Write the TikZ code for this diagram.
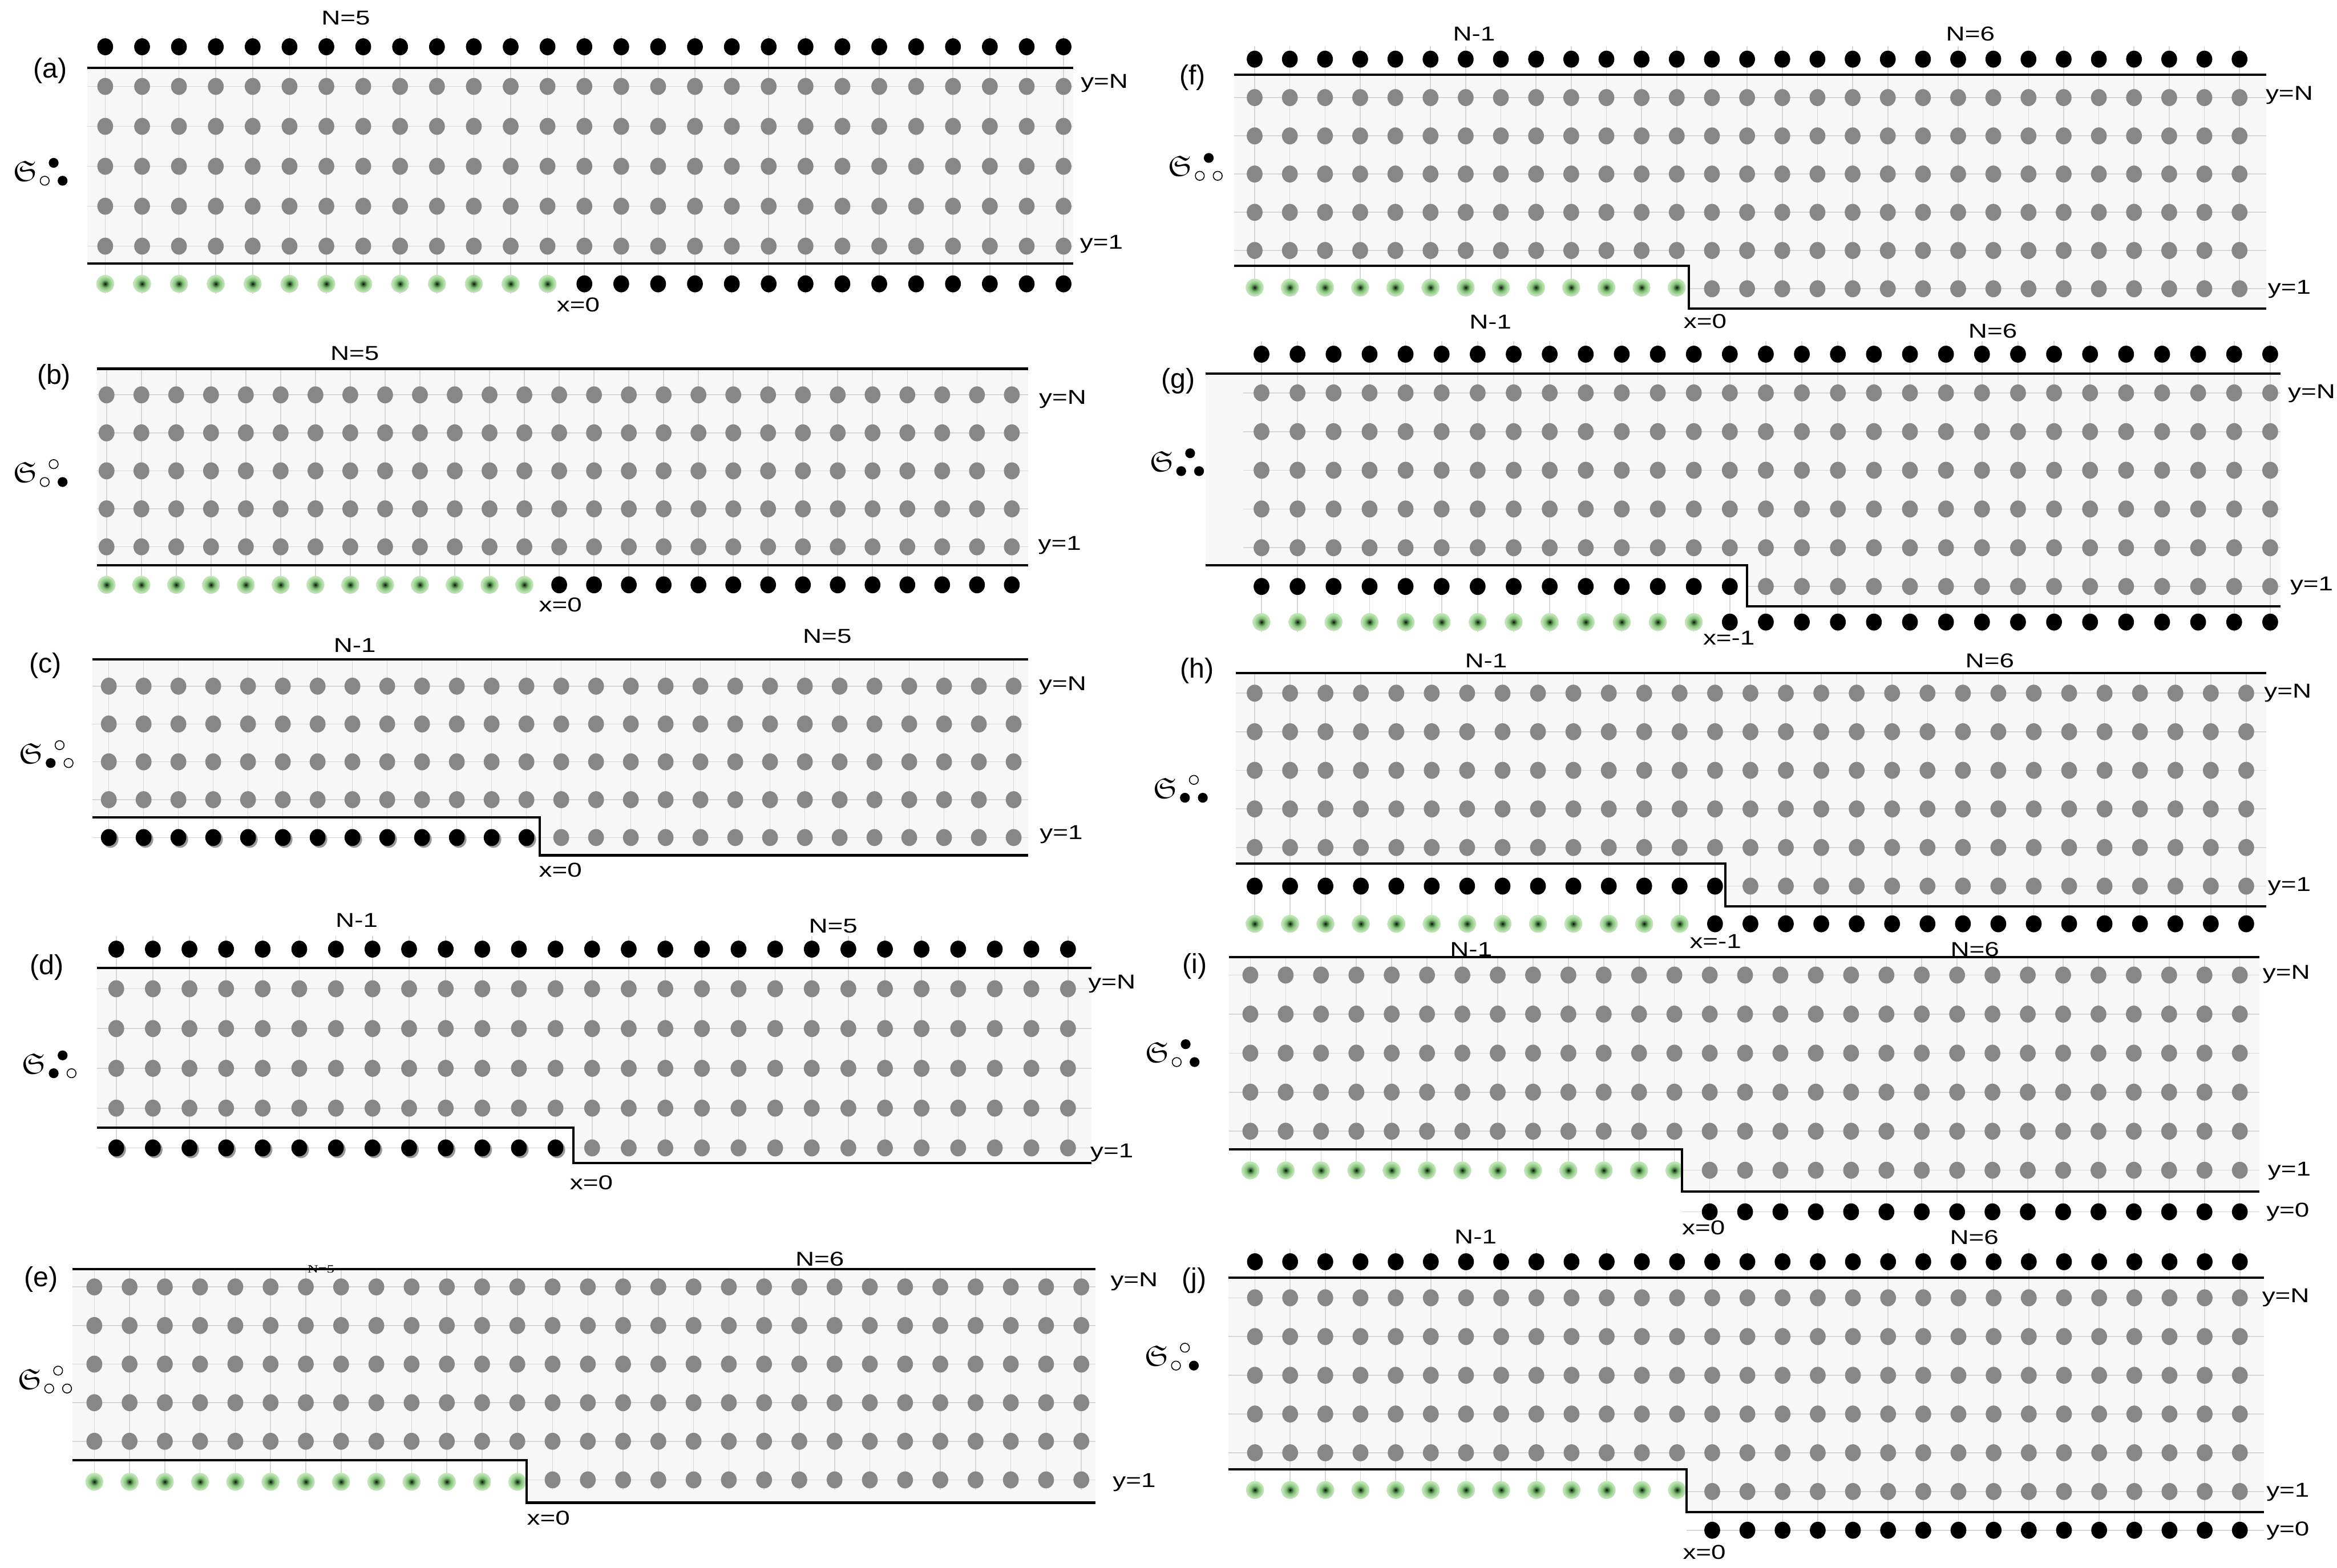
\documentclass[tikz,border=0pt]{standalone}
\usepackage{fontspec}
\usepackage{amssymb}
\usetikzlibrary{positioning,calc}
\newfontfamily\labfont{Liberation Sans}[FakeStretch=1.3]
\newfontfamily\tagfont{Liberation Sans}
\newfontfamily\tinyserif{Liberation Serif}[FakeStretch=1.35]
\definecolor{siteGray}{HTML}{878787}
\definecolor{regionBg}{HTML}{F7F7F7}
\definecolor{gridGray}{HTML}{D6D6D6}
\definecolor{glowIn}{HTML}{2E4A2C}
\definecolor{glowMid}{HTML}{7DBF72}
\definecolor{glowOut}{HTML}{B6DFAC}
\pgfdeclareradialshading{greenglow}{\pgfpoint{0bp}{0bp}}{color(0bp)=(black); color(3bp)=(glowIn); color(11bp)=(glowMid); color(20bp)=(glowOut); color(25bp)=(glowOut!80!white); color(50bp)=(white)}

\tikzset{
  siteG/.style={fill=siteGray},
  siteB/.style={fill=black},
  siteS/.style={fill=black!40},
  greendot/.style={shading=greenglow},
  regionfill/.style={fill=regionBg},
  gridln/.style={draw=gridGray, line width=0.6pt},
  boundary/.style={draw=black, line width=1.6pt},
  lbl/.style={font=\labfont\fontsize{13.5}{14}\selectfont, inner sep=0pt},
  paneltag/.style={font=\tagfont\fontsize{18.5}{19}\selectfont, inner sep=0pt},
  tinylbl/.style={font=\tinyserif\fontsize{7.5}{8}\selectfont, inner sep=0pt},
  frak/.style={scale=1.95, inner sep=0pt},
  smallc/.style={draw=black, line width=0.6pt}
}

% one row of lattice sites: style, x of column 0, column step, columns, y
\newcommand{\siterow}[5]{\foreach \cc in {#4} \fill[#1] ({#2+\cc*#3},#5) ellipse (5.3 and 5.7);}
% glowing (green) sites: x0, step, columns, y
\newcommand{\greenrow}[4]{\foreach \cc in {#3} \shade[greendot] ({#1+\cc*#2},#4) circle (6);}
% thin vertical lines through some columns: x0, step, columns, top, bottom
\newcommand{\vgrid}[5]{\foreach \cc in {#3} \draw[gridln] ({#1+\cc*#2},#4) -- ({#1+\cc*#2},#5);}
% fraktur S with its three small circles: name, position, top, lower left, lower right
\newcommand{\frakS}[5]{%
  \node[frak] (#1) at (#2) {$\mathfrak{S}$};
  \draw[smallc, fill=#3] ([shift={(19,-5.5)}]#1.center) circle (3);
  \draw[smallc, fill=#4] ([shift={(13,6.5)}]#1.center) circle (3);
  \draw[smallc, fill=#5] ([shift={(25,6.5)}]#1.center) circle (3);}

\begin{document}
\begin{tikzpicture}[x=1pt,y=-1pt]
\fill[white] (0,0) rectangle (1568,1052);
\useasboundingbox (0,0) rectangle (1568,1052);

% ---------------- (a)
\fill[regionfill] (58.6,45.4) rectangle (720,176.8);
\vgrid{70.6}{24.73}{0,...,26}{24}{197}
\foreach \rw in {58,84.8,111.6,138.4,165.2} \draw[gridln] (58.6,\rw) -- (720,\rw);
\siterow{siteB}{70.6}{24.73}{0,...,26}{31.4}
\foreach \rw in {58,84.8,111.6,138.4,165.2} {\siterow{siteG}{70.6}{24.73}{0,...,26}{\rw}}
\greenrow{70.6}{24.73}{0,...,12}{190.5}
\siterow{siteB}{70.6}{24.73}{13,...,26}{190.5}
\draw[boundary] (58.6,45.4) -- (720,45.4) (58.6,176.8) -- (720,176.8);
\node[paneltag] (a-tag) at (33.8,47.4) {(a)};
\node[lbl] (a-N) at (232,12) {N=5};
\node[lbl] (a-x0) at (388,204.5) {x=0};
\node[lbl] (a-yN) at (741,56) {y=N};
\node[lbl] (a-y1) at (739,164) {y=1};
\frakS{a-S}{17,114.8}{black}{white}{black}

% ---------------- (b)
\fill[regionfill] (65,247.5) rectangle (690,379.5);
\vgrid{71.5}{23.36}{0,...,26}{247.5}{398}
\foreach \rw in {265,290.5,316,341.5,367} \draw[gridln] (65,\rw) -- (690,\rw);
\foreach \rw in {265,290.5,316,341.5,367} {\siterow{siteG}{71.5}{23.36}{0,...,26}{\rw}}
\greenrow{71.5}{23.36}{0,...,12}{392.5}
\siterow{siteB}{71.5}{23.36}{13,...,26}{392.5}
\draw[boundary] (65,247.5) -- (690,247.5) (65,379.5) -- (690,379.5);
\node[paneltag] (b-tag) at (36.2,253) {(b)};
\node[lbl] (b-N) at (238,237) {N=5};
\node[lbl] (b-x0) at (376,406) {x=0};
\node[lbl] (b-yN) at (713,268) {y=N};
\node[lbl] (b-y1) at (711,366) {y=1};
\frakS{b-S}{17,317}{white}{white}{black}

% ---------------- (c)
\fill[regionfill] (62,442.4) -- (690,442.4) -- (690,574) -- (362,574) -- (362,548.7) -- (62,548.7) -- cycle;
\vgrid{73}{23.35}{0,...,26}{442.4}{568}
\foreach \rw in {460.5,485.9,511.3,536.7,562.1} \draw[gridln] (62,\rw) -- (690,\rw);
\foreach \rw in {460.5,485.9,511.3,536.7} {\siterow{siteG}{73}{23.35}{0,...,26}{\rw}}
\siterow{siteG}{73}{23.35}{13,...,26}{562.1}
\siterow{siteS}{74.2}{23.35}{0,...,12}{563.3}
\siterow{siteB}{73}{23.35}{0,...,12}{562.1}
\draw[boundary] (62,442.4) -- (690,442.4) (62,548.7) -- (362,548.7) -- (362,574) -- (690,574);
\node[paneltag] (c-tag) at (30.5,446.8) {(c)};
\node[lbl] (c-N1) at (238,433) {N-1};
\node[lbl] (c-N) at (555,427) {N=5};
\node[lbl] (c-x0) at (376,584) {x=0};
\node[lbl] (c-yN) at (713,460) {y=N};
\node[lbl] (c-y1) at (712,560) {y=1};
\frakS{c-S}{21,505.6}{white}{black}{white}

% ---------------- (d)
\fill[regionfill] (64.9,649.7) -- (732.4,649.7) -- (732.4,780.5) -- (384.8,780.5) -- (384.8,756.8) -- (64.9,756.8) -- cycle;
\vgrid{78}{24.56}{0,...,26}{628}{776}
\foreach \rw in {663.6,690.3,717,743.7,770.4} \draw[gridln] (64.9,\rw) -- (732.4,\rw);
\siterow{siteB}{78}{24.56}{0,...,26}{637}
\foreach \rw in {663.6,690.3,717,743.7} {\siterow{siteG}{78}{24.56}{0,...,26}{\rw}}
\siterow{siteG}{78}{24.56}{13,...,26}{770.4}
\siterow{siteS}{79.2}{24.56}{0,...,12}{771.6}
\siterow{siteB}{78}{24.56}{0,...,12}{770.4}
\draw[boundary] (64.9,649.7) -- (732.4,649.7) (64.9,756.8) -- (384.8,756.8) -- (384.8,780.5) -- (732.4,780.5);
\node[paneltag] (d-tag) at (31.4,649.4) {(d)};
\node[lbl] (d-N1) at (239.3,617.6) {N-1};
\node[lbl] (d-N) at (559,621.6) {N=5};
\node[lbl] (d-x0) at (396.8,793.8) {x=0};
\node[lbl] (d-yN) at (746,660.3) {y=N};
\node[lbl] (d-y1) at (746,773.8) {y=1};
\frakS{d-S}{23,713.8}{black}{black}{white}

% ---------------- (e)
\fill[regionfill] (48.8,851.6) -- (735,851.6) -- (735,1008.5) -- (353.4,1008.5) -- (353.4,979.9) -- (48.8,979.9) -- cycle;
\vgrid{63.3}{23.65}{0,...,28}{851.6}{1000}
\foreach \rw in {863.7,889.6,915.5,941.4,967.3} \draw[gridln] (48.8,\rw) -- (735,\rw);
\draw[gridln] (353.4,993.2) -- (735,993.2);
\foreach \rw in {863.7,889.6,915.5,941.4,967.3} {\siterow{siteG}{63.3}{23.65}{0,...,28}{\rw}}
\siterow{siteG}{63.3}{23.65}{13,...,28}{993.2}
\greenrow{63.3}{23.65}{0,...,12}{994.5}
\draw[boundary] (48.8,851.6) -- (735,851.6) (48.8,979.9) -- (353.4,979.9) -- (353.4,1008.5) -- (735,1008.5);
\node[paneltag] (e-tag) at (27.5,858.7) {(e)};
\node[tinylbl] (e-N5) at (215.3,852) {N=5};
\node[lbl] (e-N) at (550,845) {N=6};
\node[lbl] (e-x0) at (368,1018.8) {x=0};
\node[lbl] (e-yN) at (761,860) {y=N};
\node[lbl] (e-y1) at (761,995) {y=1};
\frakS{e-S}{20,925.4}{white}{white}{white}

% ---------------- (f)
\fill[regionfill] (828,50) -- (1520.6,50) -- (1520.6,207) -- (1133,207) -- (1133,178.4) -- (828,178.4) -- cycle;
\vgrid{841.8}{23.6}{0,...,28}{31}{199}
\foreach \rw in {65.5,91.2,116.8,142.5,168.1} \draw[gridln] (828,\rw) -- (1520.6,\rw);
\draw[gridln] (1133,193.8) -- (1520.6,193.8);
\siterow{siteB}{841.8}{23.6}{0,...,28}{39.7}
\foreach \rw in {65.5,91.2,116.8,142.5,168.1} {\siterow{siteG}{841.8}{23.6}{0,...,28}{\rw}}
\siterow{siteG}{841.8}{23.6}{13,...,28}{193.8}
\greenrow{841.8}{23.6}{0,...,12}{193}
\draw[boundary] (828,50) -- (1520.6,50) (828,178.4) -- (1133,178.4) -- (1133,207) -- (1520.6,207);
\node[paneltag] (f-tag) at (800,52) {(f)};
\node[lbl] (f-N1) at (989,22.7) {N-1};
\node[lbl] (f-N) at (1322,22.7) {N=6};
\node[lbl] (f-x0) at (1144,215.5) {x=0};
\node[lbl] (f-yN) at (1536,64) {y=N};
\node[lbl] (f-y1) at (1536,194) {y=1};
\frakS{f-S}{792,111.5}{black}{white}{white}

% ---------------- (g)
\fill[regionfill] (808.8,250.6) -- (1530,250.6) -- (1530,407) -- (1172,407) -- (1172,379.4) -- (808.8,379.4) -- cycle;
\vgrid{846.4}{24.17}{0,...,28}{229}{424}
\foreach \rw in {263.7,289.7,315.6,341.6,367.6} \draw[gridln] (834,\rw) -- (1530,\rw);
\draw[gridln] (1172,393.6) -- (1530,393.6);
\siterow{siteB}{846.4}{24.17}{0,...,28}{237.7}
\foreach \rw in {263.7,289.7,315.6,341.6,367.6} {\siterow{siteG}{846.4}{24.17}{0,...,28}{\rw}}
\siterow{siteG}{846.4}{24.17}{14,...,28}{393.6}
\siterow{siteB}{846.4}{24.17}{0,...,13}{393.6}
\greenrow{846.4}{24.17}{0,...,12}{417.5}
\siterow{siteB}{846.4}{24.17}{13,...,28}{417.5}
\draw[boundary] (808.8,250.6) -- (1530,250.6) (808.8,379.4) -- (1172,379.4) -- (1172,407) -- (1530,407);
\node[paneltag] (g-tag) at (790.4,255.8) {(g)};
\node[lbl] (g-N1) at (1000,216) {N-1};
\node[lbl] (g-N) at (1337,222) {N=6};
\node[lbl] (g-x0) at (1160,428) {x=-1};
\node[lbl] (g-yN) at (1551,264) {y=N};
\node[lbl] (g-y1) at (1551,393) {y=1};
\frakS{g-S}{779.5,309.7}{black}{black}{black}

% ---------------- (h)
\fill[regionfill] (829,451.6) -- (1520.6,451.6) -- (1520.6,608.4) -- (1157.6,608.4) -- (1157.6,579.7) -- (829,579.7) -- cycle;
\vgrid{841.8}{23.76}{0,...,28}{451.6}{626}
\foreach \rw in {465.2,491.1,517,542.9,568.8} \draw[gridln] (829,\rw) -- (1520.6,\rw);
\draw[gridln] (1140,594.7) -- (1520.6,594.7);
\foreach \rw in {465.2,491.1,517,542.9,568.8} {\siterow{siteG}{841.8}{23.76}{0,...,28}{\rw}}
\siterow{siteG}{841.8}{23.76}{14,...,28}{594.7}
\siterow{siteB}{841.8}{23.76}{0,...,13}{594.7}
\greenrow{841.8}{23.76}{0,...,12}{620}
\siterow{siteB}{841.8}{23.76}{13,...,28}{620}
\draw[boundary] (829,451.6) -- (1520.6,451.6) (829,579.7) -- (1157.6,579.7) -- (1157.6,608.4) -- (1520.6,608.4);
\node[paneltag] (h-tag) at (803,450.2) {(h)};
\node[lbl] (h-N1) at (997,443.6) {N-1};
\node[lbl] (h-N) at (1335,443.6) {N=6};
\node[lbl] (h-x0) at (1151,631.8) {x=-1};
\node[lbl] (h-yN) at (1535,465) {y=N};
\node[lbl] (h-y1) at (1536,595) {y=1};
\frakS{h-S}{782,528.9}{white}{black}{black}

% ---------------- (i)
\fill[regionfill] (824.5,642.5) -- (1516,642.5) -- (1516,799.6) -- (1128.5,799.6) -- (1128.5,771.2) -- (824.5,771.2) -- cycle;
\vgrid{838.9}{23.71}{0,...,12}{642.5}{786}
\vgrid{838.9}{23.71}{13,...,28}{642.5}{819}
\foreach \rw in {654.4,680.6,706.8,733,759.2} \draw[gridln] (824.5,\rw) -- (1516,\rw);
\draw[gridln] (1128.5,785.4) -- (1516,785.4) (1128.5,813.3) -- (1516,813.3);
\foreach \rw in {654.4,680.6,706.8,733,759.2} {\siterow{siteG}{838.9}{23.71}{0,...,28}{\rw}}
\siterow{siteG}{838.9}{23.71}{13,...,28}{785.4}
\greenrow{838.9}{23.71}{0,...,12}{785.5}
\siterow{siteB}{838.9}{23.71}{13,...,28}{813.3}
\draw[boundary] (824.5,642.5) -- (1516,642.5) (824.5,771.2) -- (1128.5,771.2) -- (1128.5,799.6) -- (1516,799.6);
\node[paneltag] (i-tag) at (801.7,648.4) {(i)};
\node[lbl] (i-N1) at (987,637) {N-1};
\node[lbl] (i-N) at (1325,637) {N=6};
\node[lbl] (i-x0) at (1143,824) {x=0};
\node[lbl] (i-yN) at (1534,654) {y=N};
\node[lbl] (i-y1) at (1536,786) {y=1};
\node[lbl] (i-y0) at (1535,813.5) {y=0};
\frakS{i-S}{776.5,706.3}{black}{white}{black}

% ---------------- (j)
\fill[regionfill] (824,857.5) -- (1519,857.5) -- (1519,1014.8) -- (1131.5,1014.8) -- (1131.5,986.2) -- (824,986.2) -- cycle;
\vgrid{842}{23.6}{0,...,12}{838}{1000}
\vgrid{842}{23.6}{13,...,28}{838}{1033}
\foreach \rw in {871,897,923,949,975} \draw[gridln] (824,\rw) -- (1519,\rw);
\draw[gridln] (1131.5,1001) -- (1519,1001) (1131.5,1027) -- (1519,1027);
\siterow{siteB}{842}{23.6}{0,...,28}{846.8}
\foreach \rw in {871,897,923,949,975} {\siterow{siteG}{842}{23.6}{0,...,28}{\rw}}
\siterow{siteG}{842}{23.6}{13,...,28}{1001}
\greenrow{842}{23.6}{0,...,12}{1000}
\siterow{siteB}{842}{23.6}{13,...,28}{1027}
\draw[boundary] (824,857.5) -- (1519,857.5) (824,986.2) -- (1131.5,986.2) -- (1131.5,1014.8) -- (1519,1014.8);
\node[paneltag] (j-tag) at (801.3,859.3) {(j)};
\node[lbl] (j-N1) at (990,830) {N-1};
\node[lbl] (j-N) at (1324.6,830.6) {N=6};
\node[lbl] (j-x0) at (1143.5,1041.6) {x=0};
\node[lbl] (j-yN) at (1533.6,870.8) {y=N};
\node[lbl] (j-y1) at (1535,1001.4) {y=1};
\node[lbl] (j-y0) at (1535,1027.3) {y=0};
\frakS{j-S}{776,910}{white}{white}{black}
\end{tikzpicture}
\end{document}
